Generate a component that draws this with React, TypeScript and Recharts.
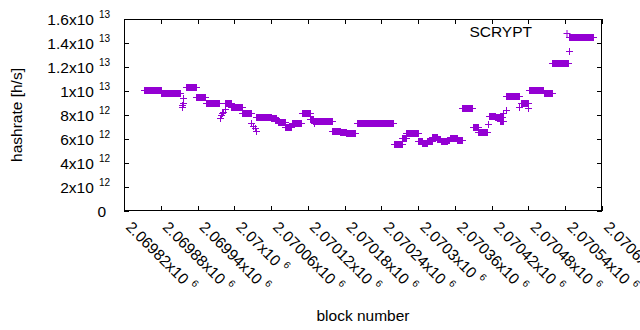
import React from 'react';
import { ScatterChart, Scatter, XAxis, YAxis } from 'recharts';

// Runs of blocks with a constant hashrate (values in units of 1e12 h/s)
const segStart = [2069853, 2069880, 2069921, 2069937, 2069953, 2069985, 2069994, 2070006, 2070013, 2070035, 2070056, 2070060, 2070066, 2070071, 2070083, 2070094, 2070110, 2070123, 2070128, 2070160, 2070172, 2070183, 2070200, 2070260, 2070273, 2070280, 2070300, 2070307, 2070315, 2070323, 2070331, 2070337, 2070347, 2070352, 2070364, 2070372, 2070389, 2070398, 2070416, 2070425, 2070434, 2070444, 2070468, 2070481, 2070505, 2070519, 2070546];
const segEnd = [2069880, 2069912, 2069937, 2069952, 2069975, 2069994, 2070006, 2070012, 2070027, 2070056, 2070060, 2070068, 2070071, 2070082, 2070093, 2070109, 2070123, 2070128, 2070159, 2070172, 2070182, 2070197, 2070259, 2070273, 2070280, 2070299, 2070307, 2070314, 2070322, 2070330, 2070336, 2070347, 2070351, 2070364, 2070371, 2070388, 2070397, 2070413, 2070425, 2070437, 2070438, 2070464, 2070480, 2070504, 2070519, 2070544, 2070585];
const segValue = [10.06, 9.81, 10.31, 9.47, 8.97, 8.97, 8.69, 8.64, 8.14, 7.81, 7.86, 7.72, 7.58, 7.39, 6.97, 7.31, 8.14, 7.69, 7.47, 6.69, 6.56, 6.47, 7.31, 5.56, 6.06, 6.47, 5.86, 5.69, 5.86, 6.14, 6.0, 5.86, 5.92, 6.06, 5.92, 8.56, 6.97, 6.58, 7.92, 7.83, 7.5, 9.58, 8.97, 10.06, 9.81, 12.37, 14.47];

// Isolated blocks (values in units of 1e12 h/s)
const looseBlock = [2069917, 2069916, 2069915, 2069914, 2069985, 2069982, 2069980, 2069978, 2069976, 2070028, 2070030, 2070034, 2070035, 2070414, 2070443, 2070439, 2070465, 2070480, 2070546, 2070130];
const looseValue = [9.39, 8.97, 8.86, 8.64, 8.47, 8.28, 8.14, 8.0, 7.72, 7.31, 7.11, 6.94, 6.69, 7.25, 8.42, 8.14, 8.69, 8.6, 13.36, 7.3];

const xTicks = [2069820, 2069880, 2069940, 2070000, 2070060, 2070120, 2070180, 2070240, 2070300, 2070360, 2070420, 2070480, 2070540, 2070600];
const xTickMantissa = ['2.06982', '2.06988', '2.06994', '2.07', '2.07006', '2.07012', '2.07018', '2.07024', '2.0703', '2.07036', '2.07042', '2.07048', '2.07054', '2.0706'];
const xTickExponent = '6';

const yTicks = [0, 2e12, 4e12, 6e12, 8e12, 1e13, 1.2e13, 1.4e13, 1.6e13];
const yTickMantissa = ['0', '2', '4', '6', '8', '1', '1.2', '1.4', '1.6'];
const yTickExponent = ['', '12', '12', '12', '12', '13', '13', '13', '13'];

const seriesName = 'SCRYPT';
const xTitle = 'block number';
const yTitle = 'hashrate [h/s]';

const data: { block: number; hashrate: number }[] = [];
segStart.forEach((s, i) => {
  for (let b = s; b <= segEnd[i]; b++) data.push({ block: b, hashrate: segValue[i] * 1e12 });
});
looseBlock.forEach((b, i) => data.push({ block: b, hashrate: looseValue[i] * 1e12 }));

const W = 640;
const H = 330;
const PL = 124;
const PR = 602;
const PT = 19;
const PB = 211;
const COLOR = '#9400d3';
const FONT = '"Liberation Sans", Arial, Helvetica, sans-serif';
const FS = 15.5;
const SUP = 10;

const Plus = (props: any) => {
  const { cx, cy } = props;
  if (cx == null || cy == null) return null;
  const x = Math.round(cx) + 0.5;
  const y = Math.round(cy) + 0.5;
  return (
    <path
      d={`M${x - 3.5},${y}H${x + 3.5}M${x},${y - 3.5}V${y + 3.5}`}
      stroke={COLOR}
      strokeWidth={1}
      fill="none"
    />
  );
};

const XTick = (props: any) => {
  const { x, payload } = props;
  const i = xTicks.indexOf(payload.value);
  const xx = Math.round(x) + 0.5;
  return (
    <g>
      <line x1={xx} x2={xx} y1={PB} y2={PB - 5} stroke="#000" strokeWidth={1} />
      <line x1={xx} x2={xx} y1={PT} y2={PT + 5} stroke="#000" strokeWidth={1} />
      <text
        transform={`translate(${x + 1},${228}) rotate(45)`}
        fontSize={FS}
        fontFamily={FONT}
        fill="#000"
        textAnchor="start"
      >
        {xTickMantissa[i]}x10
        <tspan dx={5} dy={-7} fontSize={SUP}>
          {xTickExponent}
        </tspan>
      </text>
    </g>
  );
};

const YTick = (props: any) => {
  const { y, payload } = props;
  const i = yTicks.indexOf(payload.value);
  const yy = Math.round(y) + 0.5;
  const exp = yTickExponent[i];
  return (
    <g>
      <line x1={PL} x2={PL + 5} y1={yy} y2={yy} stroke="#000" strokeWidth={1} />
      <line x1={PR - 5} x2={PR} y1={yy} y2={yy} stroke="#000" strokeWidth={1} />
      <text
        x={exp ? 110 : 106}
        y={y + 5.5}
        fontSize={FS}
        fontFamily={FONT}
        fill="#000"
        textAnchor="end"
      >
        {exp ? `${yTickMantissa[i]}x10` : yTickMantissa[i]}
        {exp ? (
          <tspan dx={5} dy={-7} fontSize={SUP}>
            {exp}
          </tspan>
        ) : null}
      </text>
    </g>
  );
};

export default function App() {
  return (
    <div style={{ position: 'absolute', left: 0, top: 0, width: W, height: H, background: '#fff' }}>
      <ScatterChart
        width={W}
        height={H}
        margin={{ top: PT, right: W - PR, bottom: 0, left: 0 }}
      >
        <XAxis
          type="number"
          dataKey="block"
          domain={[xTicks[0], xTicks[xTicks.length - 1]]}
          ticks={xTicks}
          interval={0}
          height={H - PB}
          axisLine={false}
          tickLine={false}
          tick={<XTick />}
          allowDataOverflow
        />
        <YAxis
          type="number"
          dataKey="hashrate"
          domain={[yTicks[0], yTicks[yTicks.length - 1]]}
          ticks={yTicks}
          interval={0}
          width={PL}
          axisLine={false}
          tickLine={false}
          tick={<YTick />}
          allowDataOverflow
        />
        <Scatter
          name={seriesName}
          data={data}
          fill={COLOR}
          shape={<Plus />}
          isAnimationActive={false}
        />
      </ScatterChart>
      <svg
        width={W}
        height={H}
        style={{ position: 'absolute', left: 0, top: 0, pointerEvents: 'none' }}
      >
        <rect
          x={PL + 0.5}
          y={PT + 0.5}
          width={PR - PL - 1}
          height={PB - PT - 1}
          fill="none"
          stroke="#000"
          strokeWidth={1}
        />
        <text
          transform={`translate(22,${(PT + PB) / 2}) rotate(-90)`}
          textAnchor="middle"
          fontSize={FS}
          fontFamily={FONT}
          fill="#000"
        >
          {yTitle}
        </text>
        <text x={(PL + PR) / 2} y={321} textAnchor="middle" fontSize={FS} fontFamily={FONT} fill="#000">
          {xTitle}
        </text>
        <text x={532} y={37} textAnchor="end" fontSize={FS} fontFamily={FONT} fill="#000">
          {seriesName}
        </text>
        <path d="M563.5,33.5H570.5M567,30V37" stroke={COLOR} strokeWidth={1} fill="none" />
      </svg>
    </div>
  );
}
